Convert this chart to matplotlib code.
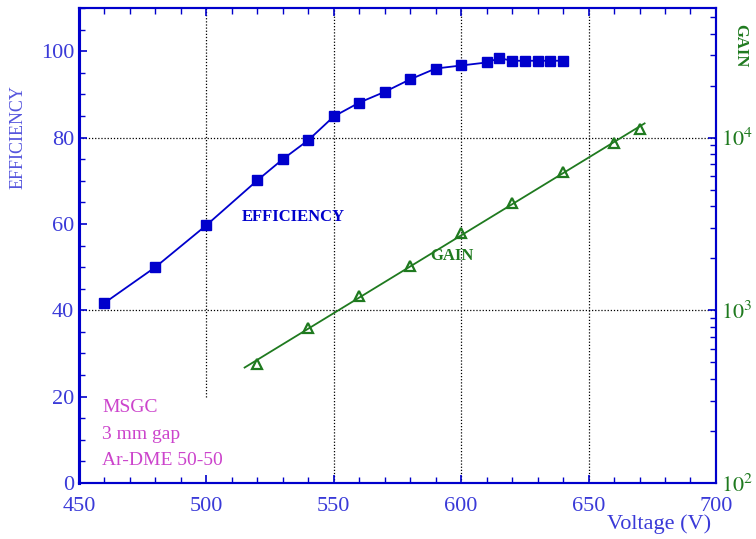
import numpy as np
import matplotlib
matplotlib.use('Agg')
from matplotlib import pyplot as plt
from matplotlib.ticker import MultipleLocator, LogLocator, NullFormatter, FixedLocator

# efficiency (%) vs voltage
eff_v = [460, 480, 500, 520, 530, 540, 550, 560, 570, 580, 590, 600, 610, 615, 620, 625, 630, 635, 640]
eff = [41.7, 50.0, 59.7, 70.1, 75.0, 79.4, 84.9, 88.1, 90.6, 93.5, 96.0, 96.7, 97.4, 98.4, 97.8, 97.8, 97.8, 97.8, 97.8]

# gain vs voltage
gain_v = [520, 540, 560, 580, 600, 620, 640, 660, 670]
gain = [490, 794, 1216, 1800, 2790, 4160, 6310, 9330, 11200]

note_lines = ['MSGC', '3 mm gap', 'Ar-DME 50-50']

plt.rcParams['font.family'] = ['Liberation Serif', 'DejaVu Serif']
plt.rcParams['mathtext.fontset'] = 'stix'

blue = '#0000cc'
lblue = '#3a3ad8'
green = '#1f7a1f'
magenta = '#cc44cc'

fig = plt.figure(figsize=(7.56, 5.39), dpi=100)
ax = fig.add_axes([0.1045, 0.104, 0.8425, 0.881])

# grid
for gx in [550, 600, 650]:
    ax.axvline(gx, color='black', lw=0.9, ls=(0, (1, 1.5)), zorder=1)
ax.plot([500, 500], [20, 110], color='black', lw=0.9, ls=(0, (1, 1.5)), zorder=1)
for gy in [40, 80]:
    ax.axhline(gy, color='black', lw=0.9, ls=(0, (1, 1.5)), zorder=1)

ax.plot(eff_v, eff, color=blue, lw=1.3, marker='s', ms=7, mfc=blue, mec=blue, zorder=3)

ax.set_xlim(450, 700)
ax.set_ylim(0, 110)
ax.xaxis.set_major_locator(MultipleLocator(50))
ax.xaxis.set_minor_locator(MultipleLocator(10))
ax.yaxis.set_major_locator(MultipleLocator(20))
ax.yaxis.set_minor_locator(MultipleLocator(5))
ax.tick_params(which='both', direction='in', colors=blue, labelsize=16, top=True)
ax.tick_params(which='major', length=6, width=1.2)
ax.tick_params(which='minor', length=4, width=1)
ax.tick_params(axis='y', right=False)
for lab in ax.get_xticklabels() + ax.get_yticklabels():
    lab.set_color(lblue)
ax.tick_params(axis='x', pad=10)
for s in ax.spines.values():
    s.set_color(blue)
    s.set_linewidth(1.5)
ax.spines['left'].set_linewidth(2.2)

# gain on log axis
ax2 = ax.twinx()
ax2.set_yscale('log')
ax2.set_ylim(1e2, 10 ** 4.75)
fit = np.polyfit(gain_v, np.log10(gain), 1)
xs = np.array([515, 672])
ax2.plot(xs, 10 ** np.polyval(fit, xs), color=green, lw=1.3, zorder=3)
ax2.plot(gain_v, gain, ls='none', marker='^', ms=6.5, mfc='none', mec=green, mew=1.6, zorder=4)
ax2.yaxis.set_major_locator(FixedLocator([1e2, 1e3, 1e4]))
ax2.yaxis.set_minor_locator(LogLocator(base=10, subs=np.arange(2, 10)))
ax2.yaxis.set_minor_formatter(NullFormatter())
ax2.set_yticklabels(['$10^2$', '$10^3$', '$10^4$'])
ax2.tick_params(which='both', direction='in', colors=blue, labelsize=16, labelcolor=green)
ax2.tick_params(which='major', length=6, width=1.2)
ax2.tick_params(which='minor', length=4, width=1)
for s in ax2.spines.values():
    s.set_color(blue)
    s.set_linewidth(1.5)
ax2.spines['left'].set_linewidth(2.2)

fig.text(0.024, 0.745, 'EFFICIENCY', rotation=90, color='#5555dd', fontsize=13,
         ha='center', va='center')
fig.text(0.979, 0.915, 'GAIN', rotation=270, color=green, fontsize=12,
         fontweight='bold', ha='center', va='center')
fig.text(0.94, 0.027, 'Voltage (V)', color=lblue, fontsize=16, ha='right', va='center')

ax.text(514, 61.5, 'EFFICIENCY', color=blue, fontsize=12, fontweight='bold', va='center')
ax2.text(588, 10 ** (2 + 52.5 / 40), 'GAIN', color=green, fontsize=12, fontweight='bold', va='center')

for i, line in enumerate(note_lines):
    ax.text(459, 17.5 - i * 6.2, line, color=magenta, fontsize=14, va='center')

fig.savefig('out.png', dpi=100)
